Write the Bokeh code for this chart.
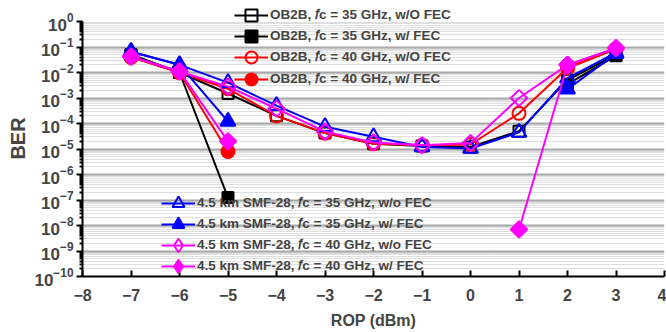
import math
from bokeh.plotting import figure
from bokeh.models import (Range1d, FixedTicker, Legend, LegendItem, LogTickFormatter)
from bokeh.embed import file_html
from bokeh.resources import INLINE

nan = float("nan")
rop = [-7, -6, -5, -4, -3, -2, -1, 0, 1, 2, 3]

ob2b_35_wo = [0.05, 0.01, 1.5e-3, 2.0e-4, 4.2e-5, 1.6e-5, 1.3e-5, 1.2e-5, 5.0e-5, 5.0e-3, 0.05]
ob2b_35_w = [0.05, 0.01, 1.25e-7, nan, nan, nan, nan, nan, nan, 3.5e-3, 0.045]
ob2b_40_wo = [0.04, 0.01, 2.3e-3, 2.0e-4, 4.2e-5, 1.6e-5, 1.4e-5, 1.5e-5, 2.5e-4, 0.015, 0.085]
ob2b_40_w = [0.04, 0.01, 8.0e-6, nan, nan, nan, nan, nan, nan, 0.015, 0.085]
smf_35_wo = [0.065, 0.02, 4.0e-3, 5.0e-4, 7.5e-5, 3.0e-5, 1.2e-5, 1.05e-5, 4.5e-5, 6.0e-3, 0.06]
smf_35_w = [0.065, 0.02, 1.2e-4, nan, nan, nan, nan, nan, nan, 2.2e-3, 0.055]
smf_40_wo = [0.042, 0.011, 2.8e-3, 3.8e-4, 4.8e-5, 1.8e-5, 1.4e-5, 1.7e-5, 1.0e-3, 0.02, 0.09]
smf_40_w = [0.042, 0.011, 2.0e-5, nan, nan, nan, nan, nan, 7.0e-9, 0.02, 0.09]

labels = [
    "OB2B, \U0001D453c = 35 GHz, w/O FEC",
    "OB2B, \U0001D453c = 35 GHz, w/ FEC",
    "OB2B, \U0001D453c = 40 GHz, w/O FEC",
    "OB2B, \U0001D453c = 40 GHz, w/ FEC",
    "4.5 km SMF-28, \U0001D453c = 35 GHz, w/o FEC",
    "4.5 km SMF-28, \U0001D453c = 35 GHz, w/ FEC",
    "4.5 km SMF-28, \U0001D453c = 40 GHz, w/o FEC",
    "4.5 km SMF-28, \U0001D453c = 40 GHz, w/ FEC",
]
x_ticks = [-8, -7, -6, -5, -4, -3, -2, -1, 0, 1, 2, 3, 4]
y_exponents = list(range(-10, 1))

series = [ob2b_35_wo, ob2b_35_w, ob2b_40_wo, ob2b_40_w, smf_35_wo, smf_35_w, smf_40_wo, smf_40_w]
colors = ["black", "black", "red", "red", "blue", "blue", "magenta", "magenta"]
markers = ["square", "square", "circle", "circle", "triangle", "triangle", "square", "square"]
legend_markers = ["square", "square", "circle", "circle", "triangle", "triangle", "diamond", "diamond"]
angles = [0, 0, 0, 0, 0, 0, math.pi / 4, math.pi / 4]
filled = [False, True, False, True, False, True, False, True]
sizes = [11, 11, 13, 13, 15, 15, 11.5, 11.5]

y_top = 10 ** (21 / 25.5)
p = figure(width=666, height=332, output_backend="svg", toolbar_location=None,
           y_axis_type="log", x_range=Range1d(-8, 4), y_range=Range1d(1e-10, y_top),
           min_border_left=82, min_border_right=2, min_border_top=0, min_border_bottom=56)
p.outline_line_color = None
p.background_fill_color = "white"
p.border_fill_color = "white"

FONT = "Liberation Sans"

# axes
p.xaxis.ticker = FixedTicker(ticks=x_ticks)
p.xaxis.axis_label = "ROP (dBm)"
p.xaxis.axis_label_text_font = FONT
p.xaxis.axis_label_text_font_style = "bold"
p.xaxis.axis_label_text_font_size = "16px"
p.xaxis.axis_label_standoff = 8
p.xaxis.major_label_text_font = FONT
p.xaxis.major_label_text_font_style = "bold"
p.xaxis.major_label_text_font_size = "16px"
p.xaxis.major_label_standoff = 12
p.xaxis.major_tick_in = 6
p.xaxis.major_tick_out = 0
p.xaxis.minor_tick_line_color = None
p.xaxis.axis_line_width = 2
p.xaxis.major_tick_line_width = 2

majors = [10.0 ** e for e in y_exponents]
minors = [m * 10.0 ** e for e in y_exponents[:-1] for m in range(2, 10)]
p.yaxis.ticker = FixedTicker(ticks=majors, minor_ticks=minors)
p.yaxis.formatter = LogTickFormatter()
p.yaxis.bounds = (1e-10, 1)
p.yaxis.axis_label = "BER"
p.yaxis.axis_label_text_font = FONT
p.yaxis.axis_label_text_font_style = "bold"
p.yaxis.axis_label_text_font_size = "20px"
p.yaxis.axis_label_standoff = 2
p.yaxis.major_label_text_font = FONT
p.yaxis.major_label_text_font_style = "bold"
p.yaxis.major_label_text_font_size = "17px"
p.yaxis.major_label_standoff = 3
p.yaxis.major_tick_in = 0
p.yaxis.major_tick_out = 6
p.yaxis.minor_tick_in = 0
p.yaxis.minor_tick_out = 3
p.yaxis.axis_line_width = 2
p.yaxis.major_tick_line_width = 2
p.yaxis.minor_tick_line_width = 2

p.xgrid.grid_line_color = None
p.ygrid.ticker = FixedTicker(ticks=majors[:-1], minor_ticks=minors)
p.ygrid.grid_line_color = "#a8a8a8"
p.ygrid.grid_line_width = 2
p.ygrid.minor_grid_line_color = "#bdbdbd"
p.ygrid.minor_grid_line_dash = "1 1"
p.ygrid.minor_grid_line_width = 1

items = []
for ys, c, m, lm, a, f, s, lab in zip(series, colors, markers, legend_markers, angles,
                                        filled, sizes, labels):
    l = p.line(rop, ys, line_color=c, line_width=2)
    p.scatter(rop, ys, marker=m, angle=a, size=s, line_color=c, line_width=2,
              fill_color=c if f else None)
    # legend-only proxy (draws nothing in the plot area)
    proxy = p.scatter([nan], [nan], marker=lm, size=s, line_color=c, line_width=2,
                      fill_color=c if f else None)
    items.append((LegendItem(label=lab, renderers=[l, proxy]), lm))

# legend rows: (glyph left offset from frame, row centre in px from top)
FRAME_BOTTOM = 276
rows = [(152, 15), (152, 36), (152, 57), (152, 79),
        (79, 203), (79, 224), (79, 245), (79, 266)]

for (item, lm), (vx, cy) in zip(items, rows):
    gh = 36 if lm == "diamond" else 30
    lg = Legend(items=[item], location=(vx, FRAME_BOTTOM - cy - gh / 2),
                padding=0, margin=0, spacing=0,
                glyph_width=34, glyph_height=gh, label_standoff=2,
                label_text_font=FONT, label_text_font_style="bold",
                label_text_font_size="13.5px", label_height=16,
                background_fill_alpha=0, border_line_color=None)
    p.add_layout(lg)

open("out.html", "w").write(file_html(p, INLINE))
